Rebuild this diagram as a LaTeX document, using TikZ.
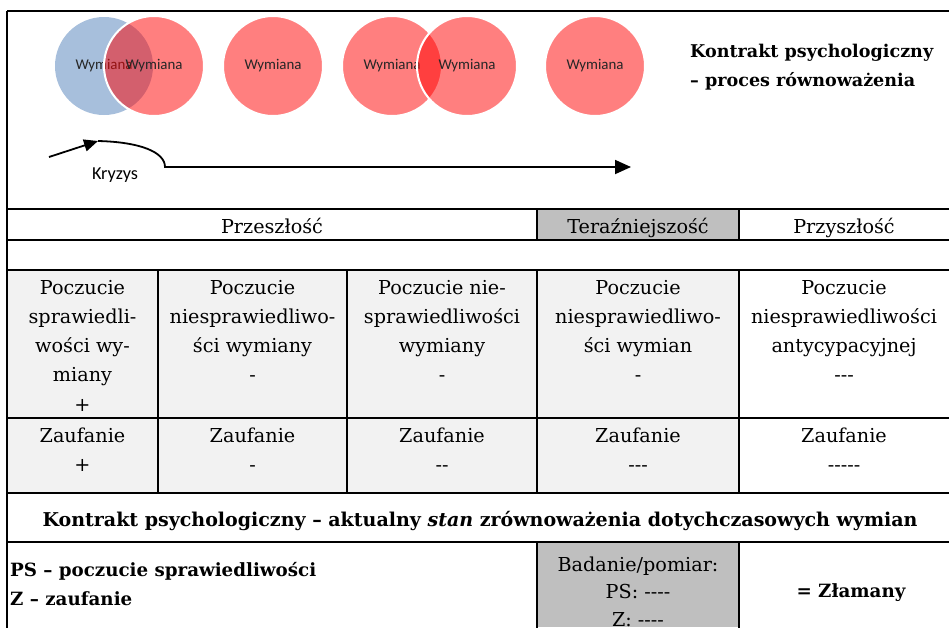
\documentclass[tikz,border=0pt]{standalone}
\usepackage{fontspec}
\setmainfont{DejaVu Serif}
\newfontfamily\calib{Carlito}
\usetikzlibrary{arrows.meta}

\definecolor{steel}{RGB}{167,191,220}
\definecolor{paneg}{RGB}{242,242,242}
\definecolor{midg}{RGB}{191,191,191}

% centred multi-line cell text whose baseline is the first line
\newcommand{\cellpar}[1]{\parbox[t]{205pt}{\centering #1}}

% font size (in pt) that makes a sample text as wide as a given width
\newlength{\probe}
\newcommand{\sizefor}[4]{%
  \settowidth{\probe}{#2\fontsize{10}{12}\selectfont #3}%
  \pgfmathsetmacro#4{10*#1/\probe}}

\begin{document}
\sizefor{243}{\bfseries}{Kontrakt psychologiczny}{\titlesize}
\sizefor{875}{\bfseries}{Kontrakt psychologiczny – aktualny \textit{stan} zrównoważenia dotychczasowych wymian}{\statesize}
\sizefor{306}{\bfseries}{PS – poczucie sprawiedliwości}{\legendsize}
\sizefor{57}{\calib}{Wymiana}{\circsize}
\sizefor{46}{\calib}{Kryzys}{\crisissize}
\begin{tikzpicture}[x=1pt,y=-1pt,
  rule/.style={line width=2.2pt},
  conn/.style={line width=1.8pt},
  bluec/.style={circle, minimum size=98pt, inner sep=0pt, fill=steel,
    text=black!85, font=\calib\fontsize{\circsize}{16}\selectfont},
  redc/.style={circle, minimum size=100pt, inner sep=0pt, fill=red,
    fill opacity=0.5, text opacity=1, draw=white, line width=2pt,
    text=black!85, font=\calib\fontsize{\circsize}{16}\selectfont},
  body/.style={font=\fontsize{19.2}{29.3}\selectfont, inner sep=0pt, anchor=base},
  heavy/.style={font=\bfseries\fontsize{\titlesize}{29}\selectfont, inner sep=0pt, anchor=base},
  heavier/.style={font=\bfseries\fontsize{\legendsize}{29}\selectfont, inner sep=0pt, anchor=base},
]
\useasboundingbox (0,0) rectangle (949,627);

% ---- shaded cells
\fill[midg]  (537,209) rectangle (739,240);
\fill[paneg] (7,270) rectangle (739,493);
\fill[midg]  (537,542) rectangle (739,627);

% ---- exchange circles
\node[bluec] (w0) at (104,66) {Wymiana};
\node[redc]  (w1) at (154,66) {Wymiana};
\node[redc]  (w2) at (273,66) {Wymiana};
\node[redc]  (w3) at (392,66) {Wymiana};
\node[redc]  (w4) at (467,66) {Wymiana};
\node[redc]  (w5) at (595,66) {Wymiana};

\node[heavy, anchor=base west] (title) at (690,57)
  {\parbox[t]{255pt}{\raggedright Kontrakt psychologiczny\\– proces równoważenia}};

% ---- time line with the crisis bend
\coordinate (k0) at (49,157);
\coordinate (k1) at (98,141);
\coordinate (k2) at (165,167);
\coordinate (k3) at (631,167);
\draw[conn, -{Triangle[length=14pt,width=12pt]}] (k0) -- (k1);
\draw[conn, -{Triangle[length=16pt,width=14pt]}]
  (k1) .. controls (140,142) and (165,152) .. (k2) -- (k3);
\node[font=\calib\fontsize{\crisissize}{20}\selectfont, inner sep=0pt, anchor=base]
  (crisis) at (115,179) {Kryzys};

% ---- table rules
\draw[rule] (7,11) -- (952,11);
\draw[rule] (7,11) -- (7,630);
\foreach \yy in {209,240,270,418,493,542}
  \draw[rule] (7,\yy) -- (952,\yy);
\draw[rule] (537,209) -- (537,240);
\draw[rule] (739,209) -- (739,240);
\foreach \xx in {158,347,537,739}
  \draw[rule] (\xx,270) -- (\xx,493);
\draw[rule] (537,542) -- (537,630);
\draw[rule] (739,542) -- (739,630);

% ---- header row
\node[body] (past)    at (272,233) {Przeszłość};
\node[body] (present) at (638,233) {Teraźniejszość};
\node[body] (future)  at (844,233) {Przyszłość};

% ---- sense of justice
\node[body] (ps1) at (82.5,294) {\cellpar{Poczucie\\sprawiedli-\\wości wy-\\miany\\+}};
\node[body] (ps2) at (252.5,294) {\cellpar{Poczucie\\niesprawiedliwo-\\ści wymiany\\-}};
\node[body] (ps3) at (442,294) {\cellpar{Poczucie nie-\\sprawiedliwości\\wymiany\\-}};
\node[body] (ps4) at (638,294) {\cellpar{Poczucie\\niesprawiedliwo-\\ści wymian\\-}};
\node[body] (ps5) at (844,294) {\cellpar{Poczucie\\niesprawiedliwości\\antycypacyjnej\\-{}-{}-}};

% ---- trust
\node[body] (z1) at (82.5,442) {\cellpar{Zaufanie\\+}};
\node[body] (z2) at (252.5,442) {\cellpar{Zaufanie\\-}};
\node[body] (z3) at (442,442) {\cellpar{Zaufanie\\-{}-}};
\node[body] (z4) at (638,442) {\cellpar{Zaufanie\\-{}-{}-}};
\node[body] (z5) at (844,442) {\cellpar{Zaufanie\\-{}-{}-{}-{}-}};

% ---- current state
\node[heavier, font=\bfseries\fontsize{\statesize}{29}\selectfont] (state) at (480,526)
  {Kontrakt psychologiczny – aktualny \textit{stan} zrównoważenia dotychczasowych wymian};
\node[heavier, anchor=base west] (legend) at (10,576)
  {\parbox[t]{400pt}{PS – poczucie sprawiedliwości\\Z – zaufanie}};
\node[body, font=\fontsize{19.2}{27.5}\selectfont] (meas) at (638,571)
  {\cellpar{Badanie/pomiar:\\PS: -{}-{}-{}-\\Z: -{}-{}-{}-}};
\node[heavier] (verdict) at (851,597) {= Złamany};
\end{tikzpicture}
\end{document}
